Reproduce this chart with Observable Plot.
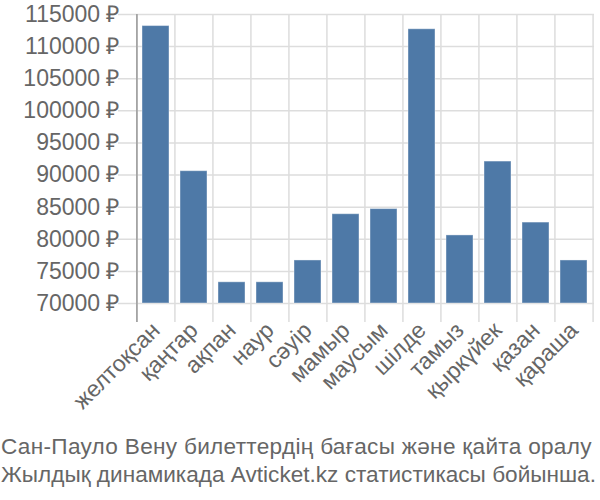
<!DOCTYPE html>
<html>
<head>
<meta charset="utf-8">
<script src="https://cdn.jsdelivr.net/npm/d3@7"></script>
<script src="https://cdn.jsdelivr.net/npm/@observablehq/plot@0.6"></script>
<style>
  body { margin: 0; background: #fff; font-family: "Liberation Sans", Arial, sans-serif; }
  #chart svg { display: block; }
  .caption { color: #666; font-size: 22.6px; line-height: 28px; padding-left: 1px; white-space: nowrap; margin-top: 8px; }
  .l1 { letter-spacing: 0.3px; }
</style>
</head>
<body>
<div id="chart"></div>
<div class="caption"><span class="l1">Сан-Пауло Вену билеттердің бағасы және қайта оралу</span><br>Жылдық динамикада Avticket.kz статистикасы бойынша.</div>
<script>
const months = ["желтоқсан","қаңтар","ақпан","наур","сәуір","мамыр","маусым","шілде","тамыз","қыркүйек","қазан","қараша"];
const prices = [113200, 90600, 73300, 73300, 76700, 83900, 84700, 112700, 80600, 92100, 82600, 76700];
const yTicks = [70000, 75000, 80000, 85000, 90000, 95000, 100000, 105000, 110000, 115000];

const data = months.map((m, i) => ({month: m, price: prices[i]}));
const W = 600, ML = 136, MR = 6;
const step = (W - ML - MR) / months.length;

const chart = Plot.plot({
  width: W,
  height: 425,
  marginTop: 14,
  marginBottom: 122,
  marginLeft: ML,
  marginRight: MR,
  style: {fontFamily: "Liberation Sans, Arial, sans-serif", fontSize: "23px", color: "#666"},
  x: {domain: months, paddingInner: 0.28, paddingOuter: 0.14, label: null},
  y: {domain: [70000, 115000], label: null},
  marks: [
    Plot.ruleY(yTicks, {stroke: "#ddd", strokeWidth: 1.5, insetLeft: -18}),
    Plot.ruleX(months, {x: d => d, dx: -step / 2, stroke: "#ddd", strokeWidth: 1.5, insetBottom: -19}),
    Plot.ruleX([months[months.length - 1]], {x: d => d, dx: step / 2, stroke: "#ddd", strokeWidth: 1.5, insetBottom: -19}),
    Plot.barY(data, {x: "month", y1: 70000, y2: "price", fill: "#4e79a7", stroke: "#fff", strokeOpacity: 0.4, strokeWidth: 1}),
    Plot.ruleX([months[0]], {x: d => d, dx: -step / 2, stroke: "#999", strokeWidth: 1.5, insetBottom: -19}),
    Plot.axisY(yTicks, {tickSize: 0, tickPadding: 17, tickFormat: d => d + " ₽", fill: "#666", fontSize: 23, label: null}),
    Plot.axisX({tickSize: 0, tickPadding: 23, tickRotate: -45, fill: "#666", fontSize: 23, label: null})
  ]
});
document.getElementById("chart").appendChild(chart);
</script>
</body>
</html>
